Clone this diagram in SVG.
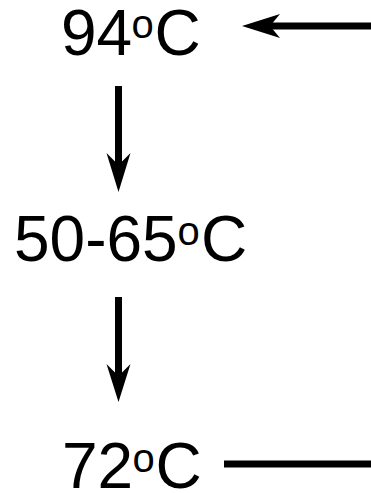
<svg xmlns="http://www.w3.org/2000/svg" width="371" height="493" viewBox="0 0 371 493">
<style>
text{font-family:"Liberation Sans",Arial,sans-serif;fill:#000}
.t{font-size:64px}
.s{font-size:40px}
.ln{stroke:#000;stroke-width:7;fill:none}
.hd{fill:#000;stroke:none}
</style>
<rect width="371" height="493" fill="#fff"/>
<g id="connectors">
<line class="ln" x1="371" y1="26" x2="268" y2="26"/>
<polygon class="hd" points="242,26 280,14 270,26 280,38"/>
<line class="ln" x1="118.5" y1="86" x2="118.5" y2="167"/>
<polygon class="hd" points="118.5,192 106.5,153 118.5,165 130.5,153"/>
<line class="ln" x1="118.5" y1="297" x2="118.5" y2="378"/>
<polygon class="hd" points="118.5,402 106.5,364 118.5,376 130.5,364"/>
<line class="ln" x1="224" y1="464" x2="371" y2="464"/>
</g>
<g id="node-94">
<text class="t" x="61" y="55">94</text>
<text class="s" x="131.5" y="38">o</text>
<text class="t" x="154.5" y="55">C</text>
</g>
<g id="node-50-65">
<text class="t" x="14" y="261">50-65</text>
<text class="s" x="177.5" y="245">o</text>
<text class="t" x="201" y="261">C</text>
</g>
<g id="node-72">
<text class="t" x="62" y="488">72</text>
<text class="s" x="132.5" y="472">o</text>
<text class="t" x="155.5" y="488">C</text>
</g>
</svg>
